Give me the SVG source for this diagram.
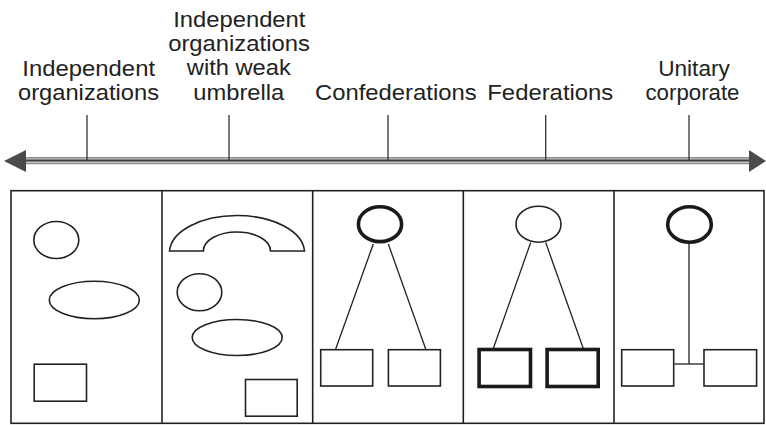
<svg xmlns="http://www.w3.org/2000/svg" width="766" height="425" viewBox="0 0 766 425">
<style>
.lbl{font-family:"Liberation Sans",Arial,Helvetica,sans-serif;font-size:22px;fill:#222;text-anchor:middle}
.thin{fill:#fff;stroke:#222;stroke-width:1.6}
.thick{fill:#fff;stroke:#1a1a1a;stroke-width:3.6}
.conn{stroke:#222;stroke-width:1.3;fill:none}
.tick{stroke:#333;stroke-width:1.3}
</style>
<rect width="766" height="425" fill="#fff"/>
<g id="axis">
<line x1="24" y1="160.6" x2="751" y2="160.6" stroke="#8c8c8c" stroke-width="7.4"/>
<line x1="24" y1="160.6" x2="751" y2="160.6" stroke="#d4d4d4" stroke-width="4.4"/>
<line x1="24" y1="160.6" x2="751" y2="160.6" stroke="#3c3c3c" stroke-width="2"/>
<polygon points="4,161 26,150 26,172" fill="#4a4a4a"/>
<polygon points="766,161 749,150 749,172" fill="#4a4a4a"/>
<line class="tick" x1="87" y1="115" x2="87" y2="160"/>
<line class="tick" x1="229" y1="115" x2="229" y2="160"/>
<line class="tick" x1="388" y1="115" x2="388" y2="160"/>
<line class="tick" x1="545.7" y1="115" x2="545.7" y2="160"/>
<line class="tick" x1="689" y1="115" x2="689" y2="160"/>
</g>
<g id="labels">
<text class="lbl" x="88.7" y="76" textLength="132.7" lengthAdjust="spacingAndGlyphs">Independent</text>
<text class="lbl" x="88.5" y="100" textLength="141" lengthAdjust="spacingAndGlyphs">organizations</text>
<text class="lbl" x="239.3" y="27" textLength="132.3" lengthAdjust="spacingAndGlyphs">Independent</text>
<text class="lbl" x="239" y="51" textLength="141.7" lengthAdjust="spacingAndGlyphs">organizations</text>
<text class="lbl" x="238.8" y="75" textLength="104" lengthAdjust="spacingAndGlyphs">with weak</text>
<text class="lbl" x="238.8" y="99.5" textLength="91" lengthAdjust="spacingAndGlyphs">umbrella</text>
<text class="lbl" x="395.8" y="100" textLength="161.7" lengthAdjust="spacingAndGlyphs">Confederations</text>
<text class="lbl" x="550.3" y="100" textLength="126" lengthAdjust="spacingAndGlyphs">Federations</text>
<text class="lbl" x="694" y="76" textLength="71.7" lengthAdjust="spacingAndGlyphs">Unitary</text>
<text class="lbl" x="692.5" y="100" textLength="94" lengthAdjust="spacingAndGlyphs">corporate</text>
</g>
<g id="frame">
<rect x="11" y="190.7" width="753" height="232.6" fill="none" stroke="#222" stroke-width="1.6"/>
<line x1="162" y1="190.7" x2="162" y2="423.3" stroke="#222" stroke-width="1.6"/>
<line x1="312.7" y1="190.7" x2="312.7" y2="423.3" stroke="#222" stroke-width="1.6"/>
<line x1="463.3" y1="190.7" x2="463.3" y2="423.3" stroke="#222" stroke-width="1.6"/>
<line x1="614" y1="190.7" x2="614" y2="423.3" stroke="#222" stroke-width="1.6"/>
</g>
<g id="panel-independent">
<ellipse id="p1-circle" class="thin" cx="56.3" cy="240" rx="22.5" ry="18.5"/>
<ellipse id="p1-ellipse" class="thin" cx="94.3" cy="300" rx="45" ry="18.8"/>
<rect id="p1-rect" class="thin" x="34.2" y="364.2" width="52.3" height="37"/>
</g>
<g id="panel-weak-umbrella">
<path id="p2-umbrella" class="thin" d="M169.5,251 A67.6,37.5 0 0 1 304.5,251 L270.5,251 A33.6,19 0 0 0 203.3,251 Z"/>
<ellipse id="p2-circle" class="thin" cx="199.5" cy="292.3" rx="22.3" ry="18.5"/>
<ellipse id="p2-ellipse" class="thin" cx="237.2" cy="337.5" rx="45" ry="18"/>
<rect id="p2-rect" class="thin" x="245.5" y="379.5" width="51.7" height="36.7"/>
</g>
<g id="connectors">
<line class="conn" x1="373.3" y1="244" x2="335.7" y2="349"/>
<line class="conn" x1="388.3" y1="244" x2="425.7" y2="349"/>
<line class="conn" x1="530.7" y1="242.5" x2="493.3" y2="348.5"/>
<line class="conn" x1="545.7" y1="242.5" x2="583.3" y2="348.5"/>
<line class="conn" stroke="#555" x1="689" y1="243" x2="689" y2="364"/>
<line class="conn" x1="674.3" y1="364" x2="703.8" y2="364"/>
</g>
<g id="panel-confederations">
<ellipse id="p3-top" class="thick" cx="380" cy="224.2" rx="21.6" ry="17.4"/>
<rect id="p3-left" class="thin" x="320.7" y="349.7" width="52" height="36.3"/>
<rect id="p3-right" class="thin" x="388.4" y="349.7" width="52" height="36.3"/>
</g>
<g id="panel-federations">
<ellipse id="p4-top" class="thin" cx="538.5" cy="224.2" rx="22.5" ry="18"/>
<rect id="p4-left" class="thick" x="479.1" y="349.5" width="51.4" height="37"/>
<rect id="p4-right" class="thick" x="547.1" y="349.5" width="51.1" height="37"/>
</g>
<g id="panel-unitary">
<ellipse id="p5-top" class="thick" cx="689.5" cy="224.5" rx="21.8" ry="17.7"/>
<rect id="p5-left" class="thin" x="621.7" y="349.7" width="52" height="36.3"/>
<rect id="p5-right" class="thin" x="704" y="349.7" width="52.6" height="36.3"/>
</g>
</svg>
